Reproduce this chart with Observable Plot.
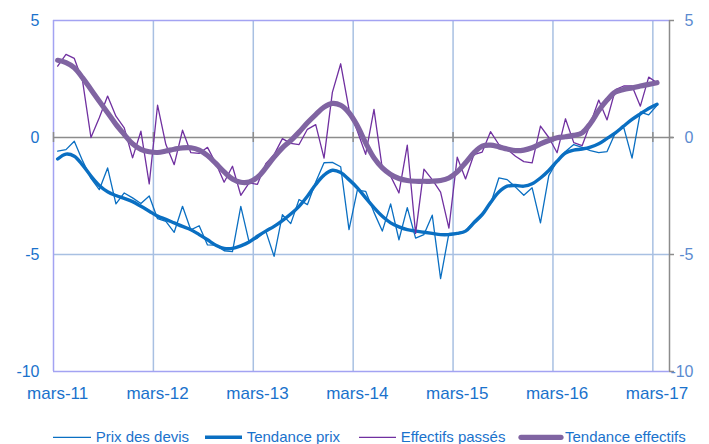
<!DOCTYPE html>
<html><head><meta charset="utf-8">
<script src="https://cdn.jsdelivr.net/npm/d3@7"></script>
<script src="https://cdn.jsdelivr.net/npm/@observablehq/plot@0.6"></script>
<style>
body{margin:0;background:#fff;font-family:"Liberation Sans",Arial,sans-serif;}
#wrap{position:relative;width:709px;height:444px;overflow:hidden;background:#fff}
#wrap svg{display:block}
</style></head><body><div id="wrap"></div>
<script>
// Monthly values, mars-11 (index 0) to mars-17 (index 72)
const prixDevis = [-0.58,-0.52,-0.16,-1.0,-1.75,-2.23,-1.3,-2.84,-2.37,-2.58,-2.82,-2.5,
  -3.47,-3.58,-4.05,-2.94,-3.95,-3.77,-4.59,-4.6,-4.84,-4.88,-2.94,-4.47,
  -4.3,-4.0,-5.08,-3.3,-3.68,-2.65,-2.87,-1.9,-1.08,-1.06,-1.25,-3.94,
  -2.25,-2.3,-3.2,-4.0,-2.84,-4.37,-3.0,-4.3,-4.15,-3.32,-6.03,-4.1,
  -4.08,-4.0,-3.58,-3.22,-2.85,-1.73,-1.8,-2.12,-2.47,-2.15,-3.65,-1.63,
  -1.0,-0.6,-0.3,-0.42,-0.56,-0.65,-0.6,0.2,0.43,-0.88,1.08,0.97,1.38];
const tendancePrix = [-0.92,-0.71,-0.8,-1.18,-1.65,-2.05,-2.32,-2.48,-2.6,-2.74,-2.94,-3.15,
  -3.36,-3.5,-3.65,-3.8,-3.94,-4.15,-4.37,-4.6,-4.74,-4.74,-4.63,-4.47,
  -4.22,-4.0,-3.8,-3.55,-3.27,-2.94,-2.51,-2.01,-1.61,-1.4,-1.5,-1.8,
  -2.15,-2.58,-3.0,-3.37,-3.65,-3.82,-3.94,-4.0,-4.05,-4.1,-4.15,-4.15,
  -4.1,-4.0,-3.65,-3.3,-2.78,-2.33,-2.08,-2.05,-2.08,-1.98,-1.73,-1.41,
  -1.01,-0.66,-0.54,-0.49,-0.41,-0.27,-0.04,0.2,0.49,0.77,1.01,1.24,1.42];
const effectifsPasses = [3.05,3.55,3.38,2.4,0.0,0.84,1.77,0.91,0.41,-0.87,0.27,-1.98,
  1.38,-0.3,-1.16,0.31,-0.65,-0.68,-0.42,-1.1,-1.91,-1.23,-2.47,-1.94,
  -2.0,-1.12,-0.73,-0.05,-0.25,-0.3,0.35,0.55,-0.88,1.93,3.15,1.2,
  0.28,-0.72,1.2,-1.33,-1.65,-2.37,-0.33,-4.1,-1.35,-1.8,-2.33,-3.87,
  -0.84,-1.77,-0.73,-0.62,0.25,-0.3,-0.5,-0.8,-1.03,-1.08,0.49,0.0,
  -0.65,0.8,-0.22,-0.35,0.6,1.6,0.75,2.05,2.2,2.2,1.34,2.58,2.34];
const tendanceEffectifs = [3.3,3.2,2.98,2.55,2.05,1.55,1.06,0.56,0.13,-0.27,-0.51,-0.61,
  -0.64,-0.58,-0.5,-0.44,-0.44,-0.54,-0.77,-1.11,-1.47,-1.77,-1.91,-1.9,
  -1.7,-1.3,-0.84,-0.44,-0.13,0.23,0.63,0.98,1.3,1.46,1.38,1.06,
  0.5,-0.23,-0.87,-1.3,-1.58,-1.75,-1.84,-1.87,-1.87,-1.87,-1.84,-1.73,
  -1.47,-1.08,-0.66,-0.37,-0.33,-0.4,-0.49,-0.56,-0.54,-0.44,-0.27,-0.13,
  -0.01,0.03,0.09,0.2,0.6,1.15,1.6,1.94,2.05,2.12,2.2,2.27,2.34];
const xTickLabels = ["mars-11","mars-12","mars-13","mars-14","mars-15","mars-16","mars-17"];
const xTickMonths = [0,12,24,36,48,60,72];
const yTicks = [5,0,-5,-10];
const nCategories = 74;
const seriesNames = ["Prix des devis","Tendance prix","Effectifs passés","Tendance effectifs"];

const rows = prixDevis.map((v,i)=>({i, prix:v, tPrix:tendancePrix[i], eff:effectifsPasses[i], tEff:tendanceEffectifs[i]}));
const cx = d => d.i + 0.5;

const GRID="#A8C0E2", FRAME="#A3A3F2", AXIS="#8C8C8C";
const BLUE="#0A6FC2", PURPLE="#7030A0", TPURPLE="#8064A2";
const LBLUE="#1A72CC", RBLUE="#5B8BD0";

const chart = Plot.plot({
  width:709, height:420,
  marginLeft:53, marginRight:40, marginTop:20, marginBottom:49,
  x:{domain:[0,nCategories], axis:null},
  y:{domain:[-10,5], axis:null},
  style:{fontFamily:'"Liberation Sans",Arial,sans-serif', background:"#fff"},
  marks:[
    Plot.ruleX(xTickMonths.slice(1), {x:d=>d, stroke:GRID, strokeWidth:1.5}),
    Plot.ruleY([-5], {y:d=>d, stroke:GRID, strokeWidth:1.5}),
    Plot.ruleY([yTicks[0], yTicks[3]], {y:d=>d, stroke:FRAME, strokeWidth:1.5}),
    Plot.ruleX([0], {x:d=>d, stroke:FRAME, strokeWidth:1.5}),
    Plot.ruleY([0], {y:d=>d, stroke:AXIS, strokeWidth:1.5, insetRight:-4}),
    Plot.ruleX(xTickMonths, {x:d=>d, y1:()=>0, y2:()=>0, insetTop:-5, insetBottom:-5, stroke:AXIS, strokeWidth:1.5}),
    Plot.ruleX([nCategories], {x:d=>d, stroke:AXIS, strokeWidth:1.5}),
    Plot.ruleY(yTicks, {y:d=>d, x1:()=>nCategories, x2:()=>nCategories, insetRight:-5, stroke:AXIS, strokeWidth:1.5}),
    Plot.line(rows, {x:cx, y:"prix", stroke:BLUE, strokeWidth:1.3}),
    Plot.line(rows, {x:cx, y:"tPrix", stroke:BLUE, strokeWidth:3.4, curve:"catmull-rom"}),
    Plot.line(rows, {x:cx, y:"eff", stroke:PURPLE, strokeWidth:1.3}),
    Plot.line(rows, {x:cx, y:"tEff", stroke:TPURPLE, strokeWidth:5.2, curve:"catmull-rom", strokeLinecap:"round"}),
    Plot.text(yTicks, {y:d=>d, text:d=>String(d), frameAnchor:"left", dx:-14, textAnchor:"end", fill:LBLUE, fontSize:16}),
    Plot.text(yTicks, {y:d=>d, text:d=>String(d), frameAnchor:"right", dx:24, textAnchor:"end", fill:RBLUE, fontSize:16}),
    Plot.text(xTickMonths, {x:d=>d+0.5, text:(d,i)=>xTickLabels[i], frameAnchor:"bottom", dy:27, fill:LBLUE, fontSize:17})
  ]
});
const wrap = document.getElementById("wrap");
wrap.appendChild(chart);

// Legend below the chart
const legend = d3.create("svg").attr("width",709).attr("height",24)
  .style("font-family",'"Liberation Sans",Arial,sans-serif');
const legItems = [
  {x1:53,x2:91,tx:95.7,stroke:BLUE,w:1.3},
  {x1:205,x2:242,tx:246.7,stroke:BLUE,w:3.4},
  {x1:359,x2:396,tx:400.7,stroke:PURPLE,w:1.3},
  {x1:521,x2:561,tx:565,stroke:TPURPLE,w:5.2}
];
legItems.forEach((it,k)=>{
  legend.append("line").attr("x1",it.x1).attr("x2",it.x2).attr("y1",17.3).attr("y2",17.3)
    .attr("stroke",it.stroke).attr("stroke-width",it.w).attr("stroke-linecap", k===3?"round":"butt");
  legend.append("text").attr("x",it.tx).attr("y",21.5).attr("fill",LBLUE).attr("font-size",15)
    .text(seriesNames[k]);
});
wrap.appendChild(legend.node());
</script></body></html>
